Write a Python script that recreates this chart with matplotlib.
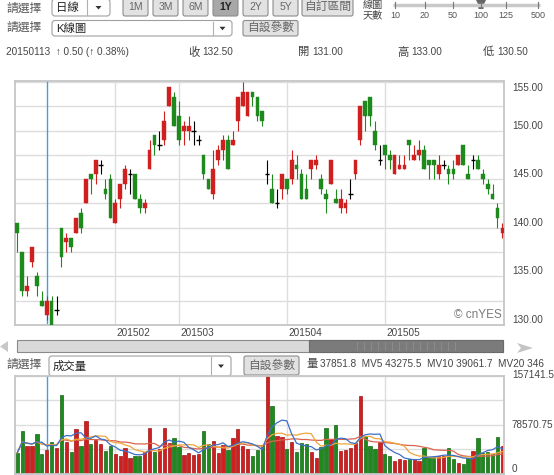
import numpy as np
import pandas as pd
import matplotlib
matplotlib.use("Agg")
import matplotlib.pyplot as plt
from matplotlib.patches import FancyBboxPatch, Polygon, Rectangle

plt.rcParams['font.family'] = ['Liberation Sans', 'Noto Sans CJK TC', 'DejaVu Sans']

# ---------------- data ----------------
opens = [140.5, 137.5, 133.5, 136.5, 135.0, 132.5, 131.0, 132.5, 131.5, 140.0,
         138.5, 139.0, 139.5, 141.5, 142.5, 145.5, 145.5, 146.5, 144.0, 145.0,
         140.5, 143.0, 144.5, 145.5, 145.5, 143.0, 142.0, 146.0, 149.5, 148.5,
         149.0, 152.5, 153.5, 151.5, 150.0, 150.0, 150.0, 149.0, 147.5, 145.0,
         143.5, 147.0, 148.0, 149.0, 148.5, 151.0, 152.5, 151.5, 154.0, 153.5,
         152.0, 145.5, 144.0, 142.5, 144.0, 145.0, 145.0, 146.5, 145.5, 144.0,
         146.0, 146.5, 145.0, 143.5, 144.5, 143.0, 142.0, 142.0, 143.5, 145.5,
         149.0, 153.0, 153.5, 150.0, 147.0, 148.5, 147.5, 145.5, 146.0, 146.0,
         149.0, 147.0, 147.5, 148.0, 147.0, 147.0, 145.5, 146.5, 146.0, 146.0,
         146.5, 148.5, 145.5, 147.0, 147.0, 145.5, 144.5, 143.5, 142.0, 139.5]
highs = [140.5, 137.5, 135.0, 138.0, 135.5, 133.5, 133.0, 133.0, 133.0, 140.0,
         139.5, 139.0, 141.0, 142.0, 145.0, 145.5, 147.0, 147.0, 145.0, 145.5,
         143.0, 144.5, 146.5, 146.0, 145.5, 143.5, 143.0, 149.0, 149.5, 150.0,
         152.0, 154.5, 154.0, 153.0, 151.0, 151.5, 151.0, 149.5, 147.5, 145.0,
         148.0, 148.5, 149.5, 149.5, 150.0, 153.5, 155.0, 154.0, 154.0, 153.5,
         152.0, 147.0, 145.5, 144.0, 145.5, 145.0, 148.0, 147.5, 146.0, 145.5,
         147.0, 147.5, 145.5, 144.0, 147.0, 144.0, 144.0, 143.0, 145.0, 147.0,
         152.5, 153.0, 153.5, 151.0, 148.5, 148.5, 148.0, 147.5, 147.5, 147.5,
         149.0, 148.5, 149.0, 148.5, 147.0, 147.0, 147.5, 147.0, 146.5, 147.0,
         147.5, 148.5, 146.5, 147.5, 147.5, 146.0, 145.0, 144.5, 142.5, 140.5]
lows = [137.5, 133.0, 133.0, 136.0, 133.0, 132.0, 130.5, 129.5, 131.0, 136.0,
        137.5, 137.5, 139.5, 139.5, 142.5, 143.5, 144.5, 145.5, 143.0, 141.0,
        140.5, 142.0, 144.0, 143.5, 143.0, 141.5, 141.5, 146.0, 147.5, 148.0,
        148.5, 152.5, 150.5, 148.5, 148.5, 149.0, 148.5, 148.5, 145.0, 144.0,
        143.0, 146.5, 147.0, 146.0, 148.5, 150.0, 152.5, 151.5, 152.5, 151.0,
        150.5, 144.5, 142.5, 142.0, 143.0, 143.5, 144.5, 145.0, 143.0, 143.0,
        145.0, 146.0, 143.5, 141.5, 144.5, 142.5, 141.5, 141.5, 143.0, 145.0,
        148.5, 150.0, 150.5, 148.0, 146.5, 146.0, 146.0, 145.5, 146.0, 146.0,
        147.0, 147.0, 147.0, 146.0, 145.0, 145.0, 145.0, 146.0, 144.5, 145.0,
        146.5, 146.5, 145.0, 146.0, 146.0, 144.5, 143.5, 143.0, 140.0, 139.0]
closes = [139.5, 133.5, 134.0, 138.0, 134.0, 132.0, 132.5, 130.0, 131.5, 137.0,
          139.0, 138.0, 141.0, 140.0, 145.0, 145.0, 147.0, 146.5, 143.5, 141.0,
          142.5, 144.5, 146.0, 145.5, 143.0, 142.0, 142.5, 148.0, 148.5, 148.5,
          151.0, 154.5, 150.5, 149.0, 150.5, 150.5, 150.0, 149.0, 145.5, 144.0,
          146.0, 148.0, 149.0, 146.0, 149.0, 153.5, 154.0, 154.0, 153.5, 151.5,
          151.0, 145.5, 142.5, 142.5, 145.5, 144.0, 147.0, 146.0, 143.0, 143.0,
          147.0, 147.0, 144.0, 143.0, 147.0, 142.5, 143.0, 142.5, 143.5, 147.0,
          152.5, 151.5, 151.5, 148.5, 147.0, 147.5, 147.0, 147.5, 146.5, 146.5,
          148.5, 147.5, 148.0, 146.0, 146.5, 146.5, 146.5, 146.5, 145.5, 145.5,
          147.5, 146.5, 145.0, 147.0, 146.0, 145.0, 144.0, 143.0, 141.0, 140.0]
volumes = [33400, 68300, 44700, 44100, 63500, 31800, 37851.8, 50000, 41400, 125900,
           51100, 34400, 72100, 44700, 84000, 47900, 54400, 47400, 36600, 44700,
           30700, 28000, 41400, 24200, 28500, 28500, 34400, 72700, 35000, 38800,
           73700, 49500, 56500, 42000, 29600, 33400, 29600, 31800, 68300, 47400,
           52700, 32800, 46300, 37700, 56500, 71600, 43600, 39300, 27400, 37100,
           45200, 157141.5, 108700, 60800, 58100, 39800, 50600, 34400, 48400, 47900,
           35000, 24800, 42000, 73200, 55400, 78000, 36000, 37700, 41400, 48400,
           124900, 59700, 44100, 38800, 50600, 31800, 28500, 19900, 23100, 21500,
           23700, 22600, 20400, 40400, 25800, 25800, 27400, 28000, 41400, 23100,
           16700, 16100, 24800, 36600, 57600, 32300, 33900, 31800, 59200, 43600]
month_labels = ['201502', '201503', '201504', '201505']
month_index = [20, 33, 55, 75]
price_ticks = [155, 150, 145, 140, 135, 130]
vol_ticks = [157141.5, 78570.75, 0]
vol_tick_labels = ['157141.5', '78570.75', '0']
cursor_index = 6
info_date = '20150113'
info_change = '\u2191 0.50 (\u2191 0.38%)'
info_close, info_open, info_high, info_low = '132.50', '131.00', '133.00', '130.50'
vol_info = '37851.8  MV5 43275.5  MV10 39061.7  MV20 346'
day_options = ['10', '20', '50', '100', '125', '500']
range_buttons = ['1M', '3M', '6M', '1Y', '2Y', '5Y']

RED = '#d01f1f'
GREEN = '#1e8a1e'
TXT = '#444444'

W, H = 554, 475
fig = plt.figure(figsize=(W / 100, H / 100), dpi=100)
fig.patch.set_facecolor('white')
ui = fig.add_axes([0, 0, 1, 1])
ui.set_xlim(0, W)
ui.set_ylim(H, 0)
ui.axis('off')


def px_axes(x0, y0, x1, y1):
    return fig.add_axes([x0 / W, 1 - y1 / H, (x1 - x0) / W, (y1 - y0) / H])


def box(x0, y0, x1, y1, fc='white', ec='#a0a0a0', lw=0.8, r=3):
    ui.add_patch(FancyBboxPatch((x0, y0), x1 - x0, y1 - y0,
                                boxstyle=f'round,pad=0,rounding_size={r}',
                                fc=fc, ec=ec, lw=lw))


def dropdown(x0, y0, x1, y1, label, div):
    box(x0, y0, x1, y1)
    ui.plot([div, div], [y0 + 1, y1 - 1], color='#b0b0b0', lw=0.8)
    cx = (div + x1) / 2
    cy = (y0 + y1) / 2
    ui.add_patch(Polygon([(cx - 3, cy - 1.5), (cx + 3, cy - 1.5), (cx, cy + 2)],
                         closed=True, fc='#333333', ec='none'))
    ui.text(x0 + 4, cy, label, fontsize=8.2, color='#222222', va='center', ha='left')


def button(x0, y0, x1, y1, label, selected=False, fs=7.5):
    box(x0, y0, x1, y1, fc='#a8a8a8' if selected else '#e2e2e2',
        ec='#8c8c8c', lw=0.8, r=2)
    ui.text((x0 + x1) / 2, (y0 + y1) / 2, label, fontsize=fs,
            color='#222222' if selected else '#666666', ha='center', va='center',
            fontweight='bold' if selected else 'normal')


# ---------- row 1 ----------
ui.text(6, 8.5, '請選擇', fontsize=8.5, color='#555555', va='center')
dropdown(52, -1, 110, 16, '日線', 87)
bx = [(123, 148), (153, 178), (183, 208), (213, 238), (243, 268), (273, 298)]
for (a, b), lab in zip(bx, range_buttons):
    button(a, -1, b, 16, lab, selected=(lab == '1Y'))
button(302, -1, 353, 16, '自訂區間', fs=8.5)
ui.text(363, 5, '線圖', fontsize=7.3, color='#444444', va='center')
ui.text(363, 15.5, '天數', fontsize=7.3, color='#444444', va='center')
tick_x = [395, 425, 453, 481, 506, 538]
ui.plot([393, 540], [5, 5], color='#c9c9c9', lw=2.5, solid_capstyle='butt')
for tx, lab in zip(tick_x, day_options):
    ui.plot([tx, tx], [2, 8], color='#777777', lw=0.8)
    ui.text(tx, 15.5, lab, fontsize=6.5, color='#555555', ha='center', va='center')
ui.add_patch(Polygon([(476, 0), (486, 0), (484, 4), (483.5, 9), (478.5, 9), (478, 4)],
                     closed=True, fc='#666666', ec='none'))

# ---------- row 2 ----------
ui.text(6, 28, '請選擇', fontsize=8.5, color='#555555', va='center')
dropdown(52, 20.5, 232, 36, 'K線圖', 213)
button(243, 20.5, 298, 36, '自設參數', fs=8.5)

# ---------- row 3 ----------
ui.text(6, 52, info_date + '  ' + info_change, fontsize=7.2, color=TXT, va='center')
for x, k, v in [(188, '收', info_close), (298, '開', info_open),
                (397, '高', info_high), (483, '低', info_low)]:
    ui.text(x, 52, k, fontsize=8.2, color=TXT, va='center')
    ui.text(x + 14, 52, v, fontsize=7.2, color=TXT, va='center')

# ---------- price panel ----------
pax = px_axes(15, 81, 504, 325)
vax = px_axes(15, 376, 504, 473.5)
xl = (-0.47, 99.33)

for ax in (pax, vax):
    ax.set_xlim(*xl)
    for s in ax.spines.values():
        s.set_color('#c6c6c6')
        s.set_linewidth(1.3)
    ax.tick_params(length=0, labelleft=False, labelbottom=False)
    ax.set_xticks(month_index)
    ax.grid(True, color='#dddddd', lw=1)
    ax.set_axisbelow(True)
    ax.axvline(cursor_index, color='#3f9fe0', lw=1, zorder=1.5)

pax.set_ylim(130, 155.1)
pax.set_yticks(np.arange(130, 155.01, 2.5))

bw = 0.76
for i, (o, h, l, c) in enumerate(zip(opens, highs, lows, closes)):
    if c == o:
        pax.vlines(i, l, h, color='black', lw=0.8, zorder=3)
        pax.hlines(c, i - 0.45, i + 0.45, color='black', lw=1, zorder=3)
    else:
        col = RED if c > o else GREEN
        pax.vlines(i, l, h, color=col, lw=0.8, zorder=3)
        pax.add_patch(Rectangle((i - bw / 2, min(o, c)), bw, abs(c - o),
                                fc=col, ec=col, lw=0.3, zorder=4))

for v in price_ticks:
    off = -6 if v >= 155 else 5
    pax.annotate(f'{v:.2f}', xy=(1, v), xycoords=('axes fraction', 'data'),
                 xytext=(8 * 0.72, off * 0.72), textcoords='offset points',
                 fontsize=7.2, color=TXT, ha='left', va='center', annotation_clip=False)

pax.text(0.995, 0.04, '\u00a9 cnYES', transform=pax.transAxes, fontsize=8.5,
         color='#7a7a7a', ha='right', va='center')

for idx, lab in zip(month_index, month_labels):
    pax.annotate(lab, xy=(idx, 0), xycoords=('data', 'axes fraction'),
                 xytext=(1.5 * 0.72, -8 * 0.72), textcoords='offset points',
                 fontsize=7.2, color=TXT, ha='left', va='center', annotation_clip=False)

# ---------- scrollbar ----------
ui.add_patch(Rectangle((17, 340), 486, 12, fc='#d9d9d9', ec='#8a8a8a', lw=0.8))
ui.add_patch(Rectangle((309, 340), 194, 12, fc='#7b7b7b', ec='#6a6a6a', lw=0.8))
for tx in np.arange(357, 456, 7):
    ui.plot([tx, tx], [342, 350], color='#8f8f8f', lw=0.6)
ui.add_patch(Polygon([(0, 346.5), (8, 341), (8, 352)], closed=True, fc='#c8c8c8', ec='none'))
ui.add_patch(Polygon([(517, 343), (533, 348), (517, 353), (521, 348)], closed=True,
                     fc='#c4c4c4', ec='none'))

# ---------- volume selector row ----------
ui.text(6, 365, '請選擇', fontsize=8.5, color='#555555', va='center')
dropdown(49, 356, 231, 376, '成交量', 211)
button(244, 356, 299, 375, '自設參數', fs=8.5)
ui.text(306, 364, '量', fontsize=8.2, color=TXT, va='center')
ui.text(320, 364, vol_info, fontsize=7.2, color=TXT, va='center')

# ---------- volume panel ----------
vmax = max(volumes)
vax.set_ylim(0, vmax)
vax.set_yticks(np.linspace(0, vmax, 5))
vcols = [RED if c >= o else GREEN for o, c in zip(opens, closes)]
vedge = ['#a01515' if col == RED else '#146614' for col in vcols]
vax.bar(range(len(volumes)), volumes, width=0.68, color=vcols, edgecolor=vedge,
        lw=0.5, zorder=2)
vs = pd.Series(volumes)
for n, col in [(20, '#d9654f'), (10, '#f0a53a'), (5, '#3d6fc8')]:
    vax.plot(range(len(volumes)), vs.rolling(n, min_periods=1).mean(), color=col,
             lw=0.9, zorder=3)

offs = [1, 0, 4]
for v, lab, off in zip(vol_ticks, vol_tick_labels, offs):
    vax.annotate(lab, xy=(1, v), xycoords=('axes fraction', 'data'),
                 xytext=(8 * 0.72, off * 0.72), textcoords='offset points',
                 fontsize=7.2, color=TXT, ha='left', va='center', annotation_clip=False)

fig.savefig('out.png', dpi=100, facecolor='white')
